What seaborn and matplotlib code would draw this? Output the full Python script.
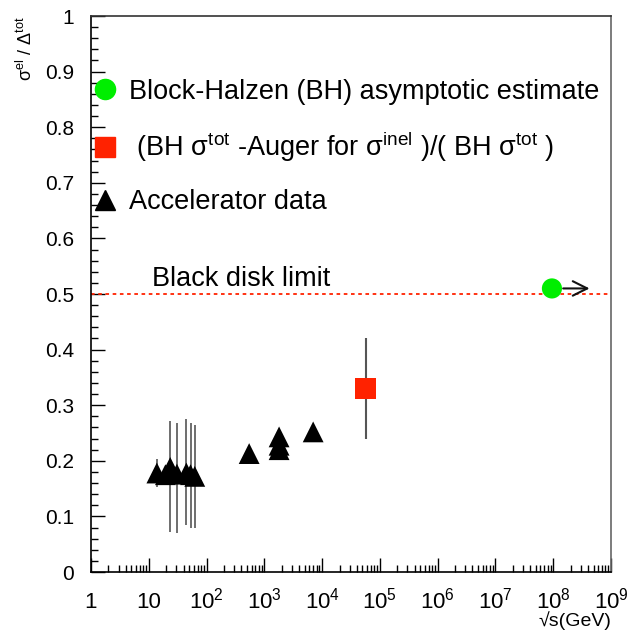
import numpy as np
import pandas as pd
import matplotlib
matplotlib.use('Agg')
import matplotlib.pyplot as plt
import seaborn as sns
from matplotlib.ticker import FixedLocator, LogLocator, NullFormatter
from matplotlib.lines import Line2D

# ---------------- data ----------------
acc_sqrt_s = [13.8, 19.4, 23.5, 30.7, 44.7, 52.8, 62.5, 546, 1800, 1800, 1800, 7000]
acc_ratio = [0.178, 0.175, 0.188, 0.176, 0.178, 0.175, 0.172, 0.213, 0.243, 0.228, 0.220, 0.252]
acc_err_lo = [0.025, 0.0, 0.116, 0.106, 0.093, 0.096, 0.093, 0.0, 0.0, 0.0, 0.0, 0.0]
acc_err_hi = [0.025, 0.0, 0.084, 0.092, 0.097, 0.093, 0.092, 0.0, 0.0, 0.0, 0.0, 0.0]

auger_sqrt_s = [5.7e4]
auger_ratio = [0.33]
auger_err = [0.09]

bh_sqrt_s = [9.5e7]
bh_ratio = [0.51]

black_disk = 0.5
x_tick_vals = [1, 10, 1e2, 1e3, 1e4, 1e5, 1e6, 1e7, 1e8, 1e9]
x_tick_labels = ['1', '10', '$10^{2}$', '$10^{3}$', '$10^{4}$', '$10^{5}$',
                 '$10^{6}$', '$10^{7}$', '$10^{8}$', '$10^{9}$']
y_tick_vals = [0, 0.1, 0.2, 0.3, 0.4, 0.5, 0.6, 0.7, 0.8, 0.9, 1.0]
y_tick_labels = ['0', '0.1', '0.2', '0.3', '0.4', '0.5', '0.6', '0.7', '0.8', '0.9', '1']

acc = pd.DataFrame({'sqrt_s': acc_sqrt_s, 'ratio': acc_ratio})
auger = pd.DataFrame({'sqrt_s': auger_sqrt_s, 'ratio': auger_ratio})
bh = pd.DataFrame({'sqrt_s': bh_sqrt_s, 'ratio': bh_ratio})

# ---------------- style ----------------
sns.set_style('white')
plt.rcParams['font.family'] = ['Liberation Sans', 'DejaVu Sans']
plt.rcParams['mathtext.fontset'] = 'custom'
plt.rcParams['mathtext.rm'] = 'Liberation Sans'
plt.rcParams['mathtext.it'] = 'Liberation Sans'
plt.rcParams['mathtext.default'] = 'rm'
plt.rcParams['text.color'] = 'black'
plt.rcParams['axes.labelcolor'] = 'black'
plt.rcParams['xtick.color'] = 'black'
plt.rcParams['ytick.color'] = 'black'

fig = plt.figure(figsize=(6.44, 6.32), dpi=100)
ax = fig.add_axes([91 / 644, 1 - 572 / 632, 520 / 644, 556 / 632])

green = '#00ee00'
red = '#ff2200'

# black disk limit
ax.axhline(black_disk, color='#ff2200', linestyle=(0, (2, 2)), linewidth=1.3, zorder=1)
ax.text(11.3, black_disk + 0.003, 'Black disk limit', fontsize=19.5, ha='left', va='bottom')

# error bars
ax.errorbar(acc_sqrt_s, acc_ratio, yerr=[acc_err_lo, acc_err_hi], fmt='none',
            ecolor='#555555', elinewidth=1.2, capsize=0, zorder=2)
ax.errorbar(auger_sqrt_s, auger_ratio, yerr=auger_err, fmt='none',
            ecolor='#555555', elinewidth=1.5, capsize=0, zorder=2)

# markers
sns.scatterplot(data=acc, x='sqrt_s', y='ratio', marker='^', s=15 ** 2,
                color='black', edgecolor='none', ax=ax, zorder=3, legend=False)
sns.scatterplot(data=auger, x='sqrt_s', y='ratio', marker='s', s=15 ** 2,
                color=red, edgecolor='none', ax=ax, zorder=3, legend=False)
sns.scatterplot(data=bh, x='sqrt_s', y='ratio', marker='o', s=14.5 ** 2,
                color=green, edgecolor='none', ax=ax, zorder=4, legend=False)

# arrow from BH point
ax.annotate('', xy=(bh_sqrt_s[0] * 5.0, bh_ratio[0]),
            xytext=(bh_sqrt_s[0] * 1.4, bh_ratio[0]),
            arrowprops=dict(arrowstyle='->', color='#111111', lw=1.5,
                            mutation_scale=26), zorder=5)

ax.set_xscale('log')
ax.set_xlim(1, 1e9)
ax.set_ylim(0, 1)

# ticks (ROOT style, inside, left & bottom only)
ax.xaxis.set_major_locator(FixedLocator(x_tick_vals))
ax.set_xticklabels(x_tick_labels)
ax.xaxis.set_minor_locator(LogLocator(base=10, subs=np.arange(2, 10), numticks=20))
ax.xaxis.set_minor_formatter(NullFormatter())
ax.yaxis.set_major_locator(FixedLocator(y_tick_vals))
ax.set_yticklabels(y_tick_labels)
ax.yaxis.set_minor_locator(FixedLocator(np.arange(0, 1.001, 0.02)))
ax.tick_params(axis='both', which='both', direction='in', top=False, right=False,
               bottom=True, left=True, color='black', width=1)
ax.tick_params(axis='both', which='major', labelsize=15, length=10)
ax.tick_params(axis='y', which='major', pad=12)
ax.tick_params(axis='both', which='minor', length=5)
ax.tick_params(axis='x', which='major', pad=26, labelsize=16)
for lab in ax.get_xticklabels():
    lab.set_va('baseline')
for spine in ax.spines.values():
    spine.set_color('black')
    spine.set_linewidth(1.2)
ax.spines['top'].set_color('#333333')
ax.spines['right'].set_color('#666666')

ax.set_xlabel('√s(GeV)', fontsize=14, va='top', ha='right')
ax.xaxis.set_label_coords(1.0, -0.07)
ax.set_ylabel(r'σ$^{el}$ / Δ$^{tot}$', fontsize=13)
ax.yaxis.set_label_coords(-0.106, 1.0)
ax.yaxis.label.set_ha('right')

# legend
handles = [
    Line2D([], [], marker='o', linestyle='none', color=green, markersize=14.5),
    Line2D([], [], marker='s', linestyle='none', color=red, markersize=15),
    Line2D([], [], marker='^', linestyle='none', color='black', markersize=15),
]
labels = ['Block-Halzen (BH) asymptotic estimate',
          ' (BH σ$^{tot}$ -Auger for σ$^{inel}$ )/( BH σ$^{tot}$ )',
          'Accelerator data']
ax.legend(handles, labels, loc='upper left', bbox_to_anchor=(0.0, 0.887),
          frameon=False, fontsize=19.5, handlelength=1.0, handletextpad=0.42,
          labelspacing=0.92, borderaxespad=0.0, borderpad=0.0)

plt.savefig('out.png', dpi=100, facecolor='white')
